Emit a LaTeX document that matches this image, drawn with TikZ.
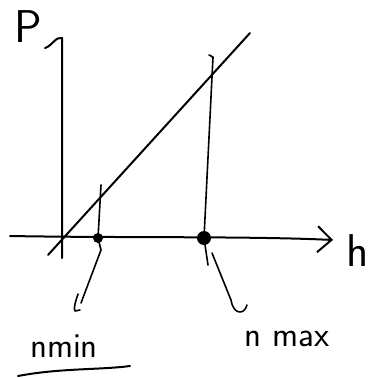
\documentclass[tikz,border=0pt]{standalone}
\usepackage{fontspec}
\usepackage{tikz}
\usetikzlibrary{arrows.meta, positioning, calc}

\begin{document}
\begin{tikzpicture}[x=1pt, y=-1pt, font=\sffamily,
    pen/.style={line width=2pt, line cap=round, line join=round},
    thinpen/.style={line width=1.6pt, line cap=round, line join=round},
    dot/.style={circle, fill=black, inner sep=0pt},
    axislbl/.style={font=\sffamily\fontsize{46}{48}\selectfont, inner sep=0pt, anchor=base},
    marklbl/.style={font=\sffamily\fontsize{35}{37}\selectfont, inner sep=0pt, anchor=base}
]
\useasboundingbox (0,0) rectangle (374,378);

% axes
\coordinate (ybot) at (62,258);
\coordinate (ytop) at (62,38);
\coordinate (xleft) at (10,236);
\coordinate (xright) at (333,240);
\draw[pen] (ybot) -- (ytop) .. controls (56,36) and (52,46) .. (45,48);
\draw[pen, -{Straight Barb[length=14pt, width=26pt, line width=2pt]}] (xleft) .. controls (120,238) and (250,236) .. (xright);
\node[axislbl] (plbl) at (28,42) {P};
\node[axislbl] (hlbl) at (358,266) {h};

% straight line
\coordinate (dstart) at (48,255);
\coordinate (dend) at (250,33);
\draw[pen] (dstart) -- (dend);

% n min
\node[dot, minimum size=10pt] (nmin) at (98,238) {};
\coordinate (mintop) at (101,185);
\coordinate (minend) at (81,303);
\draw[thinpen] (mintop) -- (nmin.center) -- (101,250) -- (minend);
\draw[thinpen] (78,294) .. controls (76,300) and (73,309) .. (75,311) -- (80,310);
\node[marklbl] (minlbl) at (64,357) {nmin};
\draw[pen] (18,376) .. controls (60,368) and (100,370) .. (130,366);

% n max
\node[dot, minimum size=14pt] (nmax) at (204,238) {};
\coordinate (maxtop) at (213,57);
\draw[thinpen] (209,55) .. controls (213,56) and (214,60) .. (maxtop) -- (nmax.center) -- (208,265);
\coordinate (maxlead) at (212,253);
\coordinate (maxend) at (231,300);
\draw[thinpen] (maxlead) -- (maxend) .. controls (233,314) and (244,316) .. (247,305);
\node[marklbl] (maxlbl) at (287,346) {n max};

\end{tikzpicture}
\end{document}
